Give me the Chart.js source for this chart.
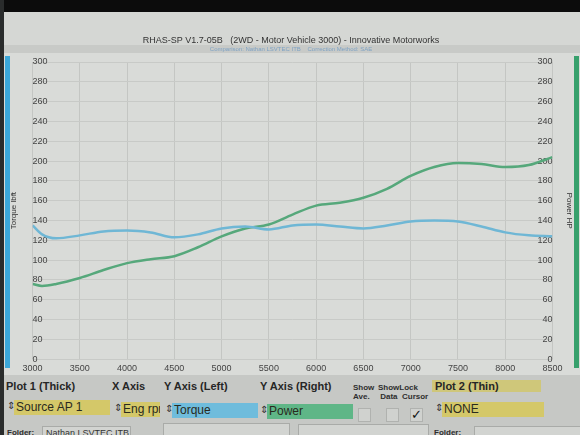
<!DOCTYPE html>
<html>
<head>
<meta charset="utf-8">
<script src="https://cdn.jsdelivr.net/npm/chart.js@4.4.1/dist/chart.umd.min.js"></script>
<style>
  body { margin: 0; width: 580px; height: 435px; overflow: hidden; background: #d5d7d4; font-family: "Liberation Sans", Arial, sans-serif; position: relative; }
  #bezel { position: absolute; left: 0; top: 0; width: 580px; height: 12px; background: #0c0c0c; }
  #edge { position: absolute; left: 0; top: 0; width: 4px; height: 435px; background: #2a2c2c; }
  #wrap { position: absolute; left: 0; top: 12px; }
  #panel { position: absolute; left: 4px; top: 375px; width: 576px; height: 60px; background: #c6c8c5; }
  .lbl { position: absolute; font-weight: bold; font-size: 11px; color: #262626; white-space: nowrap; }
  .small { position: absolute; font-weight: bold; font-size: 8px; line-height: 9px; color: #2e2e2e; white-space: nowrap; }
  .box { position: absolute; height: 15px; font-size: 12px; line-height: 15px; color: #2a2a20; padding-left: 2px; white-space: nowrap; overflow: hidden; }
  .arr { position: absolute; font-size: 10px; color: #333; }
  .chk { position: absolute; width: 11px; height: 12px; background: #d0d2cf; border: 1px solid #b0b2af; }
  .fld { position: absolute; background: #d2d4d1; border: 1px solid #a9aba8; font-size: 9px; color: #333; padding-left: 3px; }
</style>
</head>
<body>
<div id="wrap"><canvas id="dynoChart" width="580" height="366"></canvas></div>
<div id="bezel"></div>
<div id="edge"></div>
<div id="panel">
  <div class="lbl" style="left:2px;top:5px">Plot 1 (Thick)</div>
  <div class="lbl" style="left:108px;top:5px">X Axis</div>
  <div class="lbl" style="left:160px;top:5px">Y Axis (Left)</div>
  <div class="lbl" style="left:256px;top:5px">Y Axis (Right)</div>
  <div class="small" style="left:349px;top:8px">Show<br>Ave.</div>
  <div class="small" style="left:374px;top:8px">ShowLock<br>&nbsp;Data&nbsp;&nbsp;Cursor</div>
  <div class="lbl" style="left:428px;top:5px;background:#cfc77a;width:106px;padding-left:3px">Plot 2 (Thin)</div>

  <div class="arr" style="left:3px;top:25px">&#8661;</div>
  <div class="box" style="left:10px;top:25px;width:94px;background:#d4c869">Source AP 1</div>
  <div class="arr" style="left:110px;top:27px">&#8661;</div>
  <div class="box" style="left:117px;top:27px;width:37px;background:#d4c869">Eng rpr</div>
  <div class="arr" style="left:161px;top:28px">&#8661;</div>
  <div class="box" style="left:168px;top:28px;width:84px;background:#6fbcdc">Torque</div>
  <div class="arr" style="left:256px;top:29px">&#8661;</div>
  <div class="box" style="left:263px;top:29px;width:84px;background:#5fb687">Power</div>
  <div class="chk" style="left:354px;top:33px"></div>
  <div class="chk" style="left:382px;top:33px"></div>
  <div class="chk" style="left:406px;top:33px;font-size:13px;line-height:12px;text-align:center;color:#111">&#10003;</div>
  <div class="arr" style="left:431px;top:27px">&#8661;</div>
  <div class="box" style="left:438px;top:27px;width:100px;background:#d4c869">NONE</div>

  <div class="small" style="left:3px;top:53px;font-size:8px">Folder:</div>
  <div class="fld" style="left:38px;top:51px;width:84px;height:12px;line-height:12px">Nathan LSVTEC ITB</div>
  <div class="fld" style="left:159px;top:48px;width:122px;height:16px"></div>
  <div class="fld" style="left:294px;top:49px;width:126px;height:16px"></div>
  <div class="small" style="left:430px;top:53px;font-size:8px">Folder:</div>
  <div class="fld" style="left:470px;top:51px;width:110px;height:14px"></div>
</div>
<script>
const rpm = [3000, 3100, 3250, 3500, 3750, 4000, 4250, 4500, 4750, 5000, 5250, 5500,
             5750, 6000, 6250, 6500, 6750, 7000, 7250, 7500, 7750, 8000, 8250, 8500];
// torque lbft (left axis)
const torque = [135, 126, 122, 125, 129, 130, 128, 123, 126, 132, 134, 131,
                135, 136, 134, 132, 135, 139, 140, 139, 134, 128, 125, 124];
// power HP (right axis)
const power = [76, 74, 76, 82, 90, 97, 101, 104, 113, 124, 132, 136,
               146, 155, 158, 163, 172, 185, 194, 198, 197, 194, 196, 204];
// tick labels
const rpmTicks = [3000, 3500, 4000, 4500, 5000, 5500, 6000, 6500, 7000, 7500, 8000, 8500];
const yTicks = [0, 20, 40, 60, 80, 100, 120, 140, 160, 180, 200, 220, 240, 260, 280, 300];

const toPoints = (vals) => vals.map((v, i) => ({ x: rpm[i], y: v }));
const fixTicks = (list) => (scale) => { scale.ticks = list.map(v => ({ value: v })); };
const plain = (v) => String(v);

// background band, plot area and the coloured bars at each side
const screenDeco = {
  id: 'screenDeco',
  beforeDraw(chart) {
    const { ctx } = chart;
    ctx.save();
    ctx.fillStyle = '#c8cac7';
    ctx.fillRect(4, 33, 576, 8);
    ctx.fillStyle = '#d9dbd8';
    ctx.fillRect(4, 41, 576, 325);
    ctx.fillStyle = '#3ba7d9';
    ctx.fillRect(5, 44, 5, 312);
    ctx.fillStyle = '#37a06c';
    ctx.fillRect(574, 44, 5, 312);
    ctx.restore();
  }
};

const tickFont = { family: '"Liberation Sans", Arial, sans-serif', size: 9 };
const titleFont = { family: '"Liberation Sans", Arial, sans-serif', size: 8 };

new Chart(document.getElementById('dynoChart'), {
  type: 'line',
  data: {
    datasets: [{
      label: 'Torque',
      data: toPoints(torque),
      yAxisID: 'y',
      borderColor: '#6fb7d5',
      borderWidth: 2.5,
      pointRadius: 0,
      tension: 0.4,
      cubicInterpolationMode: 'monotone'
    }, {
      label: 'Power',
      data: toPoints(power),
      yAxisID: 'y1',
      borderColor: '#56a87b',
      borderWidth: 2.5,
      pointRadius: 0,
      tension: 0.4,
      cubicInterpolationMode: 'monotone'
    }]
  },
  options: {
    responsive: false,
    animation: false,
    layout: { padding: { left: 4, right: 2, top: 0, bottom: 0 } },
    plugins: {
      legend: { display: false },
      tooltip: { enabled: false },
      title: {
        display: true,
        text: 'RHAS-SP V1.7-05B   (2WD - Motor Vehicle 3000) - Innovative Motorworks',
        color: '#333',
        font: { family: '"Liberation Sans", Arial, sans-serif', size: 9, weight: 'normal' },
        padding: { top: 23, bottom: 0 }
      },
      subtitle: {
        display: true,
        text: 'Comparison: Nathan LSVTEC ITB    Correction Method: SAE',
        color: '#7fa3c4',
        font: { family: '"Liberation Sans", Arial, sans-serif', size: 6 },
        padding: { top: 0, bottom: 9 }
      }
    },
    scales: {
      x: {
        type: 'linear',
        min: 3000,
        max: 8500,
        afterBuildTicks: fixTicks(rpmTicks),
        grid: { color: '#c4c6c3', drawTicks: false },
        border: { display: false },
        ticks: { color: '#444', font: tickFont, padding: 4, maxRotation: 0, callback: plain }
      },
      y: {
        position: 'left',
        min: 0,
        max: 300,
        afterBuildTicks: fixTicks(yTicks),
        grid: { color: '#c8cac7', drawTicks: false },
        border: { display: false },
        ticks: { color: '#444', font: tickFont, mirror: true, padding: 0, callback: plain },
        title: { display: true, text: 'Torque lbft', color: '#333', font: titleFont, padding: { top: 5, bottom: 14 } }
      },
      y1: {
        position: 'right',
        min: 0,
        max: 300,
        afterBuildTicks: fixTicks(yTicks),
        grid: { display: false, drawTicks: false },
        border: { display: false },
        ticks: { color: '#444', font: tickFont, mirror: true, padding: 0, callback: plain },
        title: { display: true, text: 'Power HP', color: '#333', font: titleFont, padding: { top: 4, bottom: 12 } }
      }
    }
  },
  plugins: [screenDeco]
});
</script>
</body>
</html>
